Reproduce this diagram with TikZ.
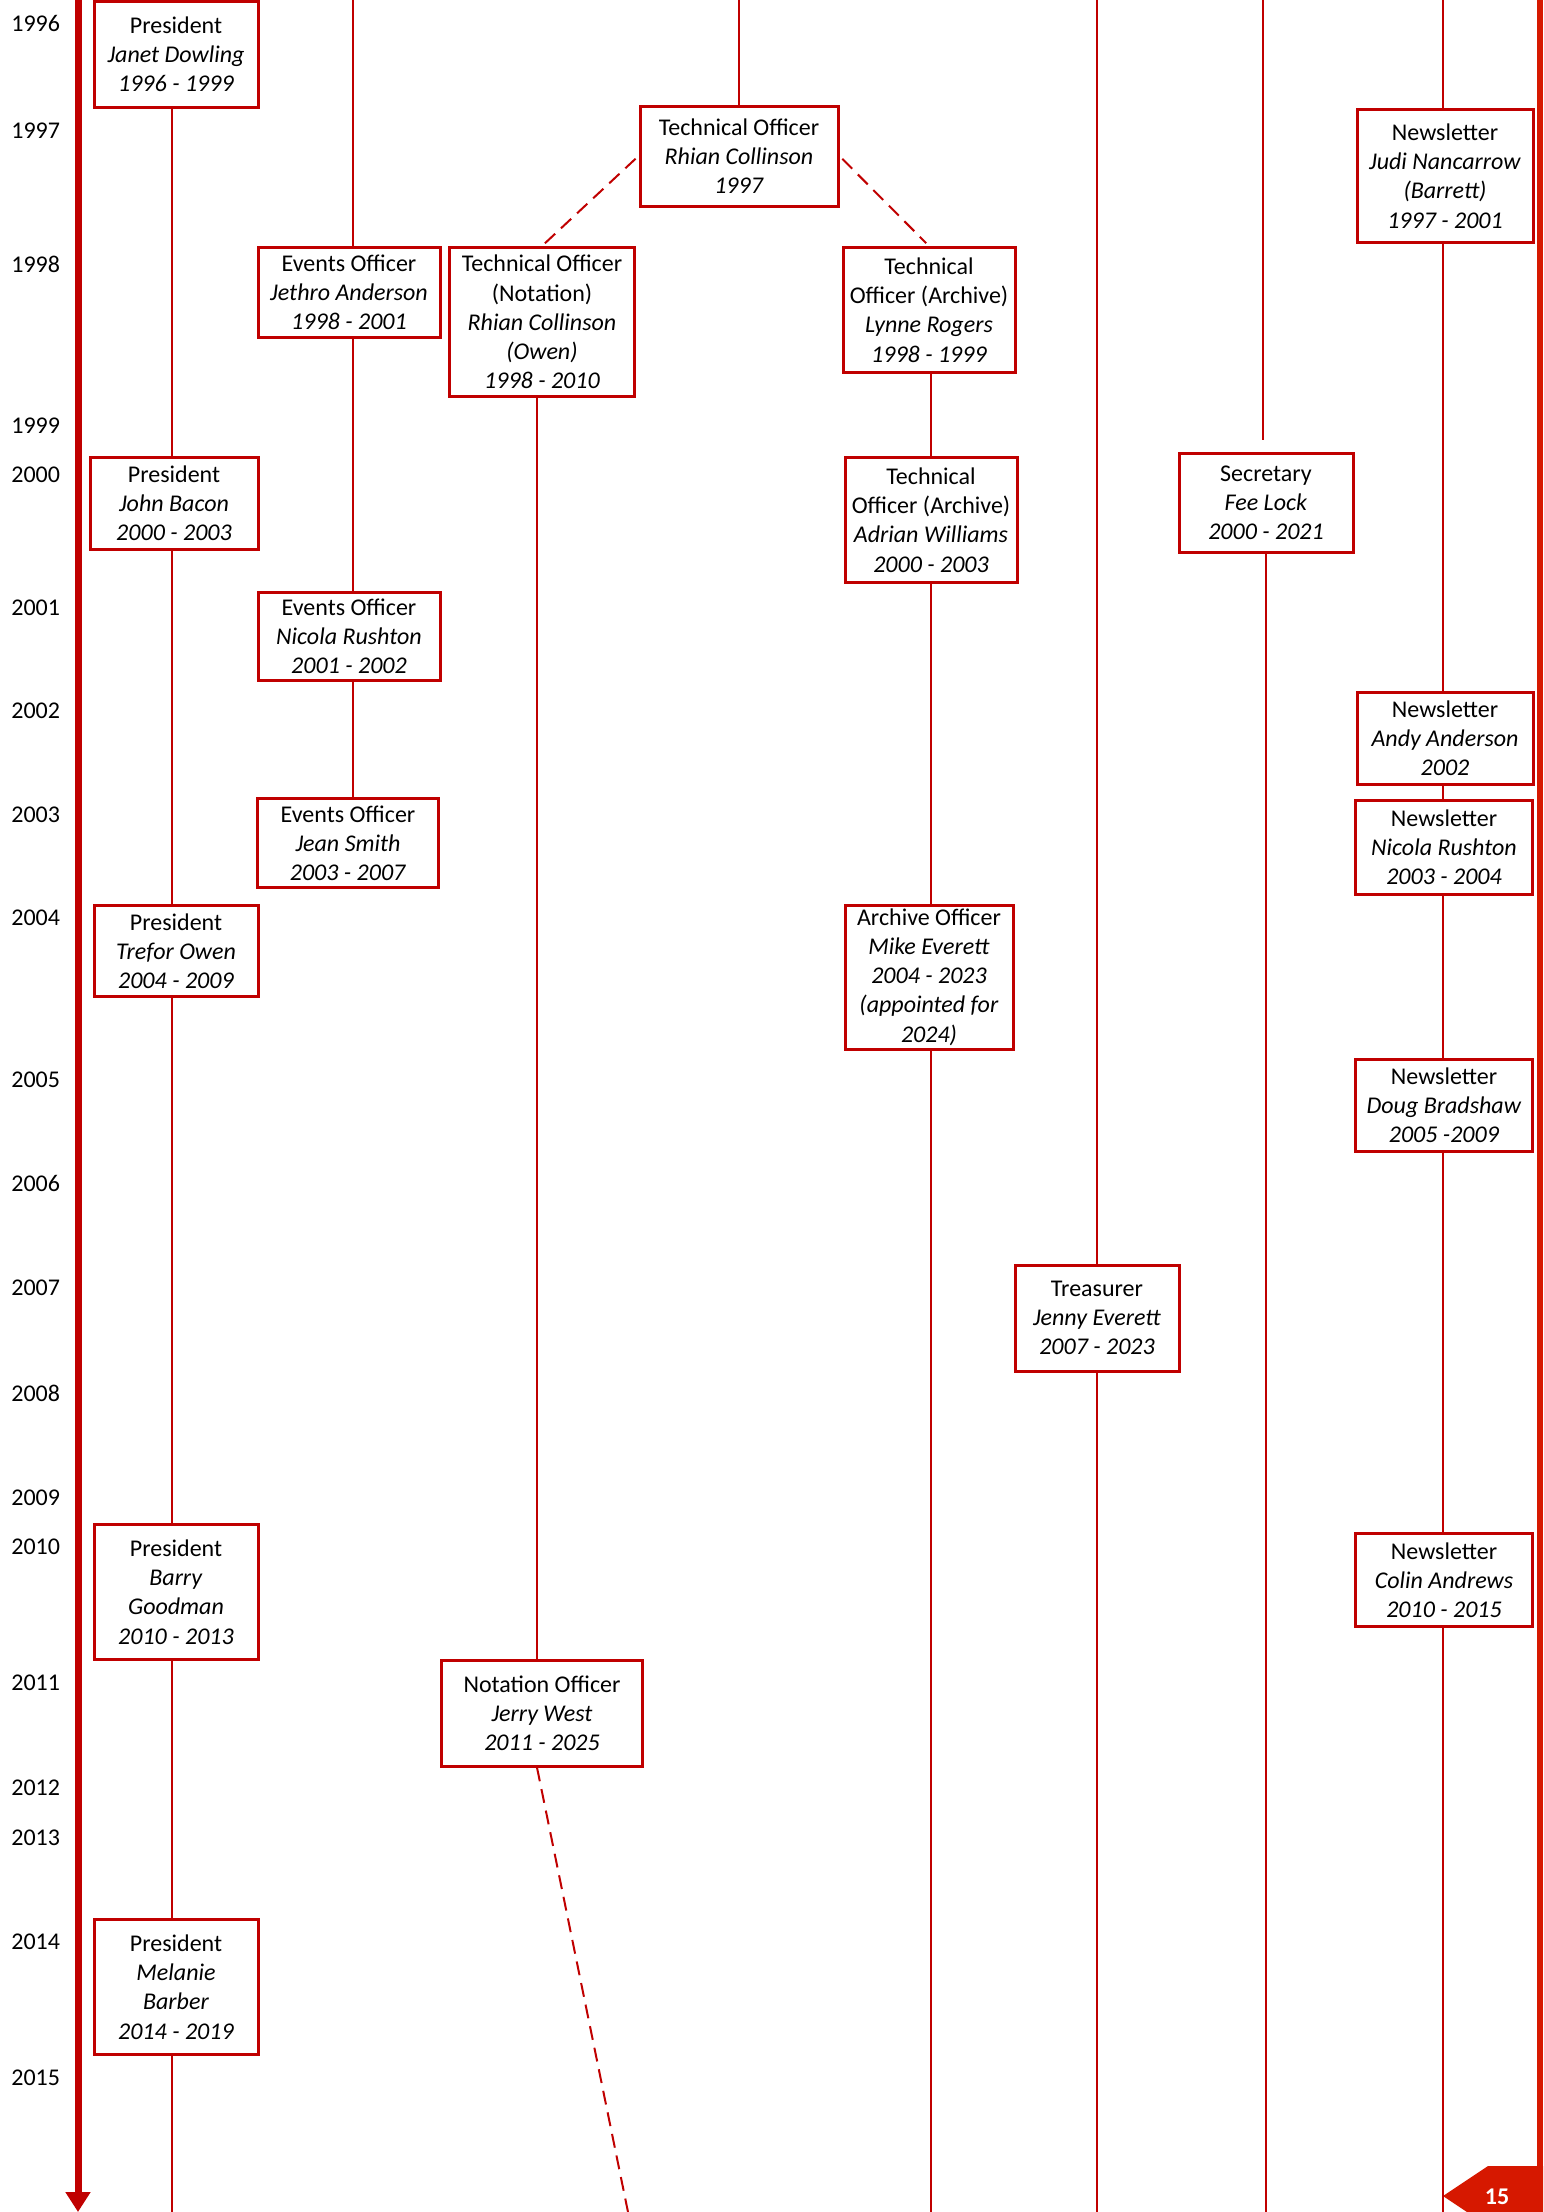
\documentclass[tikz,border=0pt]{standalone}
\usepackage{fontspec}
\setmainfont{Carlito}
\usepackage{tikz}
\usetikzlibrary{arrows.meta}
\definecolor{boxred}{RGB}{192,0,0}
\definecolor{framered}{RGB}{214,24,0}

\begin{document}
\begin{tikzpicture}[x=0.5pt,y=-0.5pt,
  post/.style={draw=boxred, line width=1.5pt, fill=white, align=center, inner sep=1pt, font=\fontsize{12}{14.6}\selectfont},
  yr/.style={anchor=west, inner sep=0pt, font=\fontsize{12}{14.6}\selectfont},
  tenure/.style={draw=boxred, line width=1pt},
  handover/.style={draw=boxred, line width=1pt, dash pattern=on 7pt off 4pt},
  endtip/.style={tenure, -{Triangle[width=5pt,length=4pt]}}]
\useasboundingbox (0,0) rectangle (1543,2212);
\clip (0,0) rectangle (1543,2212);
\coordinate (top) at (0,0);
\coordinate (bottom) at (0,2212);
\coordinate (below) at (0,2224);

\foreach \y/\ypos in {1996/23, 1997/131, 1998/264, 1999/426, 2000/475, 2001/608, 2002/711, 2003/815, 2004/918, 2005/1080, 2006/1183, 2007/1288, 2008/1393, 2009/1498, 2010/1547, 2011/1683, 2012/1788, 2013/1838, 2014/1942, 2015/2078}
  \node[yr] (y\y) at (11,\ypos) {\y};

\draw[boxred, line width=3.5pt, -{Triangle[width=12pt,length=10pt]}] (78,0) -- (78,2212);
\fill[framered] (1537,0) rectangle (1543,2166);
\fill[framered] (1443,2196) -- (1488,2166) -- (1543,2166) -- (1543,2212) -- (1467,2212) -- cycle;
\node[text=white, font=\fontsize{12}{14}\selectfont\bfseries, inner sep=0pt] (pnum) at (1497,2197) {15};

\node[post, minimum width=82pt, minimum height=53pt] (pres1) at (176,54) {President\\\textit{Janet Dowling}\\\textit{1996 - 1999}};
\node[post, minimum width=91pt, minimum height=45pt] (ev1) at (349,292) {Events Officer\\\textit{Jethro Anderson}\\\textit{1998 - 2001}};
\node[post, minimum width=92.5pt, minimum height=74.5pt] (tn) at (542,322) {Technical Officer\\(Notation)\\\textit{Rhian Collinson}\\\textit{(Owen)}\\\textit{1998 - 2010}};
\node[post, minimum width=99pt, minimum height=50pt] (tech) at (739,156) {Technical Officer\\\textit{Rhian Collinson}\\\textit{1997}};
\node[post, minimum width=86pt, minimum height=62.5pt] (ta1) at (929,310) {Technical\\Officer (Archive)\\\textit{Lynne Rogers}\\\textit{1998 - 1999}};
\node[post, minimum width=88pt, minimum height=66.5pt] (nl1) at (1445,176) {Newsletter\\\textit{Judi Nancarrow}\\\textit{(Barrett)}\\\textit{1997 - 2001}};
\node[post, minimum width=84pt, minimum height=46pt] (pres2) at (174,503) {President\\\textit{John Bacon}\\\textit{2000 - 2003}};
\node[post, minimum width=86pt, minimum height=62.5pt] (ta2) at (931,520) {Technical\\Officer (Archive)\\\textit{Adrian Williams}\\\textit{2000 - 2003}};
\node[post, minimum width=87pt, minimum height=49.5pt] (sec) at (1266,503) {Secretary\\\textit{Fee Lock}\\\textit{2000 - 2021}};
\node[post, minimum width=91pt, minimum height=44pt] (ev2) at (349,636) {Events Officer\\\textit{Nicola Rushton}\\\textit{2001 - 2002}};
\node[post, minimum width=88pt, minimum height=46pt] (nl2) at (1445,738) {Newsletter\\\textit{Andy Anderson}\\\textit{2002}};
\node[post, minimum width=90.5pt, minimum height=44.5pt] (ev3) at (348,843) {Events Officer\\\textit{Jean Smith}\\\textit{2003 - 2007}};
\node[post, minimum width=88.5pt, minimum height=47pt] (nl3) at (1444,847) {Newsletter\\\textit{Nicola Rushton}\\\textit{2003 - 2004}};
\node[post, minimum width=82pt, minimum height=45.5pt] (pres3) at (176,951) {President\\\textit{Trefor Owen}\\\textit{2004 - 2009}};
\node[post, minimum width=84pt, minimum height=72pt] (arch) at (929,977) {Archive Officer\\\textit{Mike Everett}\\\textit{2004 - 2023}\\\textit{(appointed for}\\\textit{2024)}};
\node[post, minimum width=88.5pt, minimum height=46pt] (nl4) at (1444,1105) {Newsletter\\\textit{Doug Bradshaw}\\\textit{2005 -2009}};
\node[post, minimum width=82pt, minimum height=53pt] (treas) at (1097,1318) {Treasurer\\\textit{Jenny Everett}\\\textit{2007 - 2023}};
\node[post, minimum width=82pt, minimum height=67.5pt] (pres4) at (176,1592) {President\\\textit{Barry}\\\textit{Goodman}\\\textit{2010 - 2013}};
\node[post, minimum width=88.5pt, minimum height=46.5pt] (nl5) at (1444,1580) {Newsletter\\\textit{Colin Andrews}\\\textit{2010 - 2015}};
\node[post, minimum width=100.5pt, minimum height=53pt] (notn) at (542,1713) {Notation Officer\\\textit{Jerry West}\\\textit{2011 - 2025}};
\node[post, minimum width=82pt, minimum height=67.5pt] (pres5) at (176,1987) {President\\\textit{Melanie}\\\textit{Barber}\\\textit{2014 - 2019}};

\coordinate (prescol) at (172,0);
\coordinate (evcol) at (353,0);
\coordinate (notcol) at (537,0);
\coordinate (archcol) at (931,0);
\coordinate (nlcol) at (1443,0);
\foreach \a/\b/\c in {pres1/pres2/prescol, pres2/pres3/prescol, pres3/pres4/prescol, pres4/pres5/prescol, ev1/ev2/evcol, ev2/ev3/evcol, tn/notn/notcol, ta1/ta2/archcol, ta2/arch/archcol, nl1/nl2/nlcol, nl2/nl3/nlcol, nl3/nl4/nlcol, nl4/nl5/nlcol}
  \draw[tenure] (\a.south -| \c) -- (\b.north -| \c);
\draw[tenure] (evcol) -- (ev1.north -| evcol);
\draw[tenure] (tech.north |- top) -- (tech);
\draw[tenure] (treas.north |- top) -- (treas);
\draw[tenure] (nlcol) -- (nl1.north -| nlcol);
\coordinate (secstop) at (1263,440);
\draw[tenure] (secstop |- top) -- (secstop);
\draw[tenure] (pres5.south -| prescol) -- (prescol |- bottom);
\draw[tenure] (nl5.south -| nlcol) -- (nlcol |- bottom);
\draw[endtip] (arch.south -| archcol) -- (archcol |- below);
\draw[endtip] (treas) -- (treas.south |- below);
\draw[endtip] (sec) -- (sec.south |- below);
\draw[handover, shorten <=2pt, shorten >=2pt] (tech.west) -- (tn.north);
\draw[handover, shorten <=2pt, shorten >=2pt] (tech.east) -- (ta1.north);
\coordinate (dashend) at (628,2212);
\draw[handover] (notn.south -| notcol) -- (dashend);
\end{tikzpicture}
\end{document}
